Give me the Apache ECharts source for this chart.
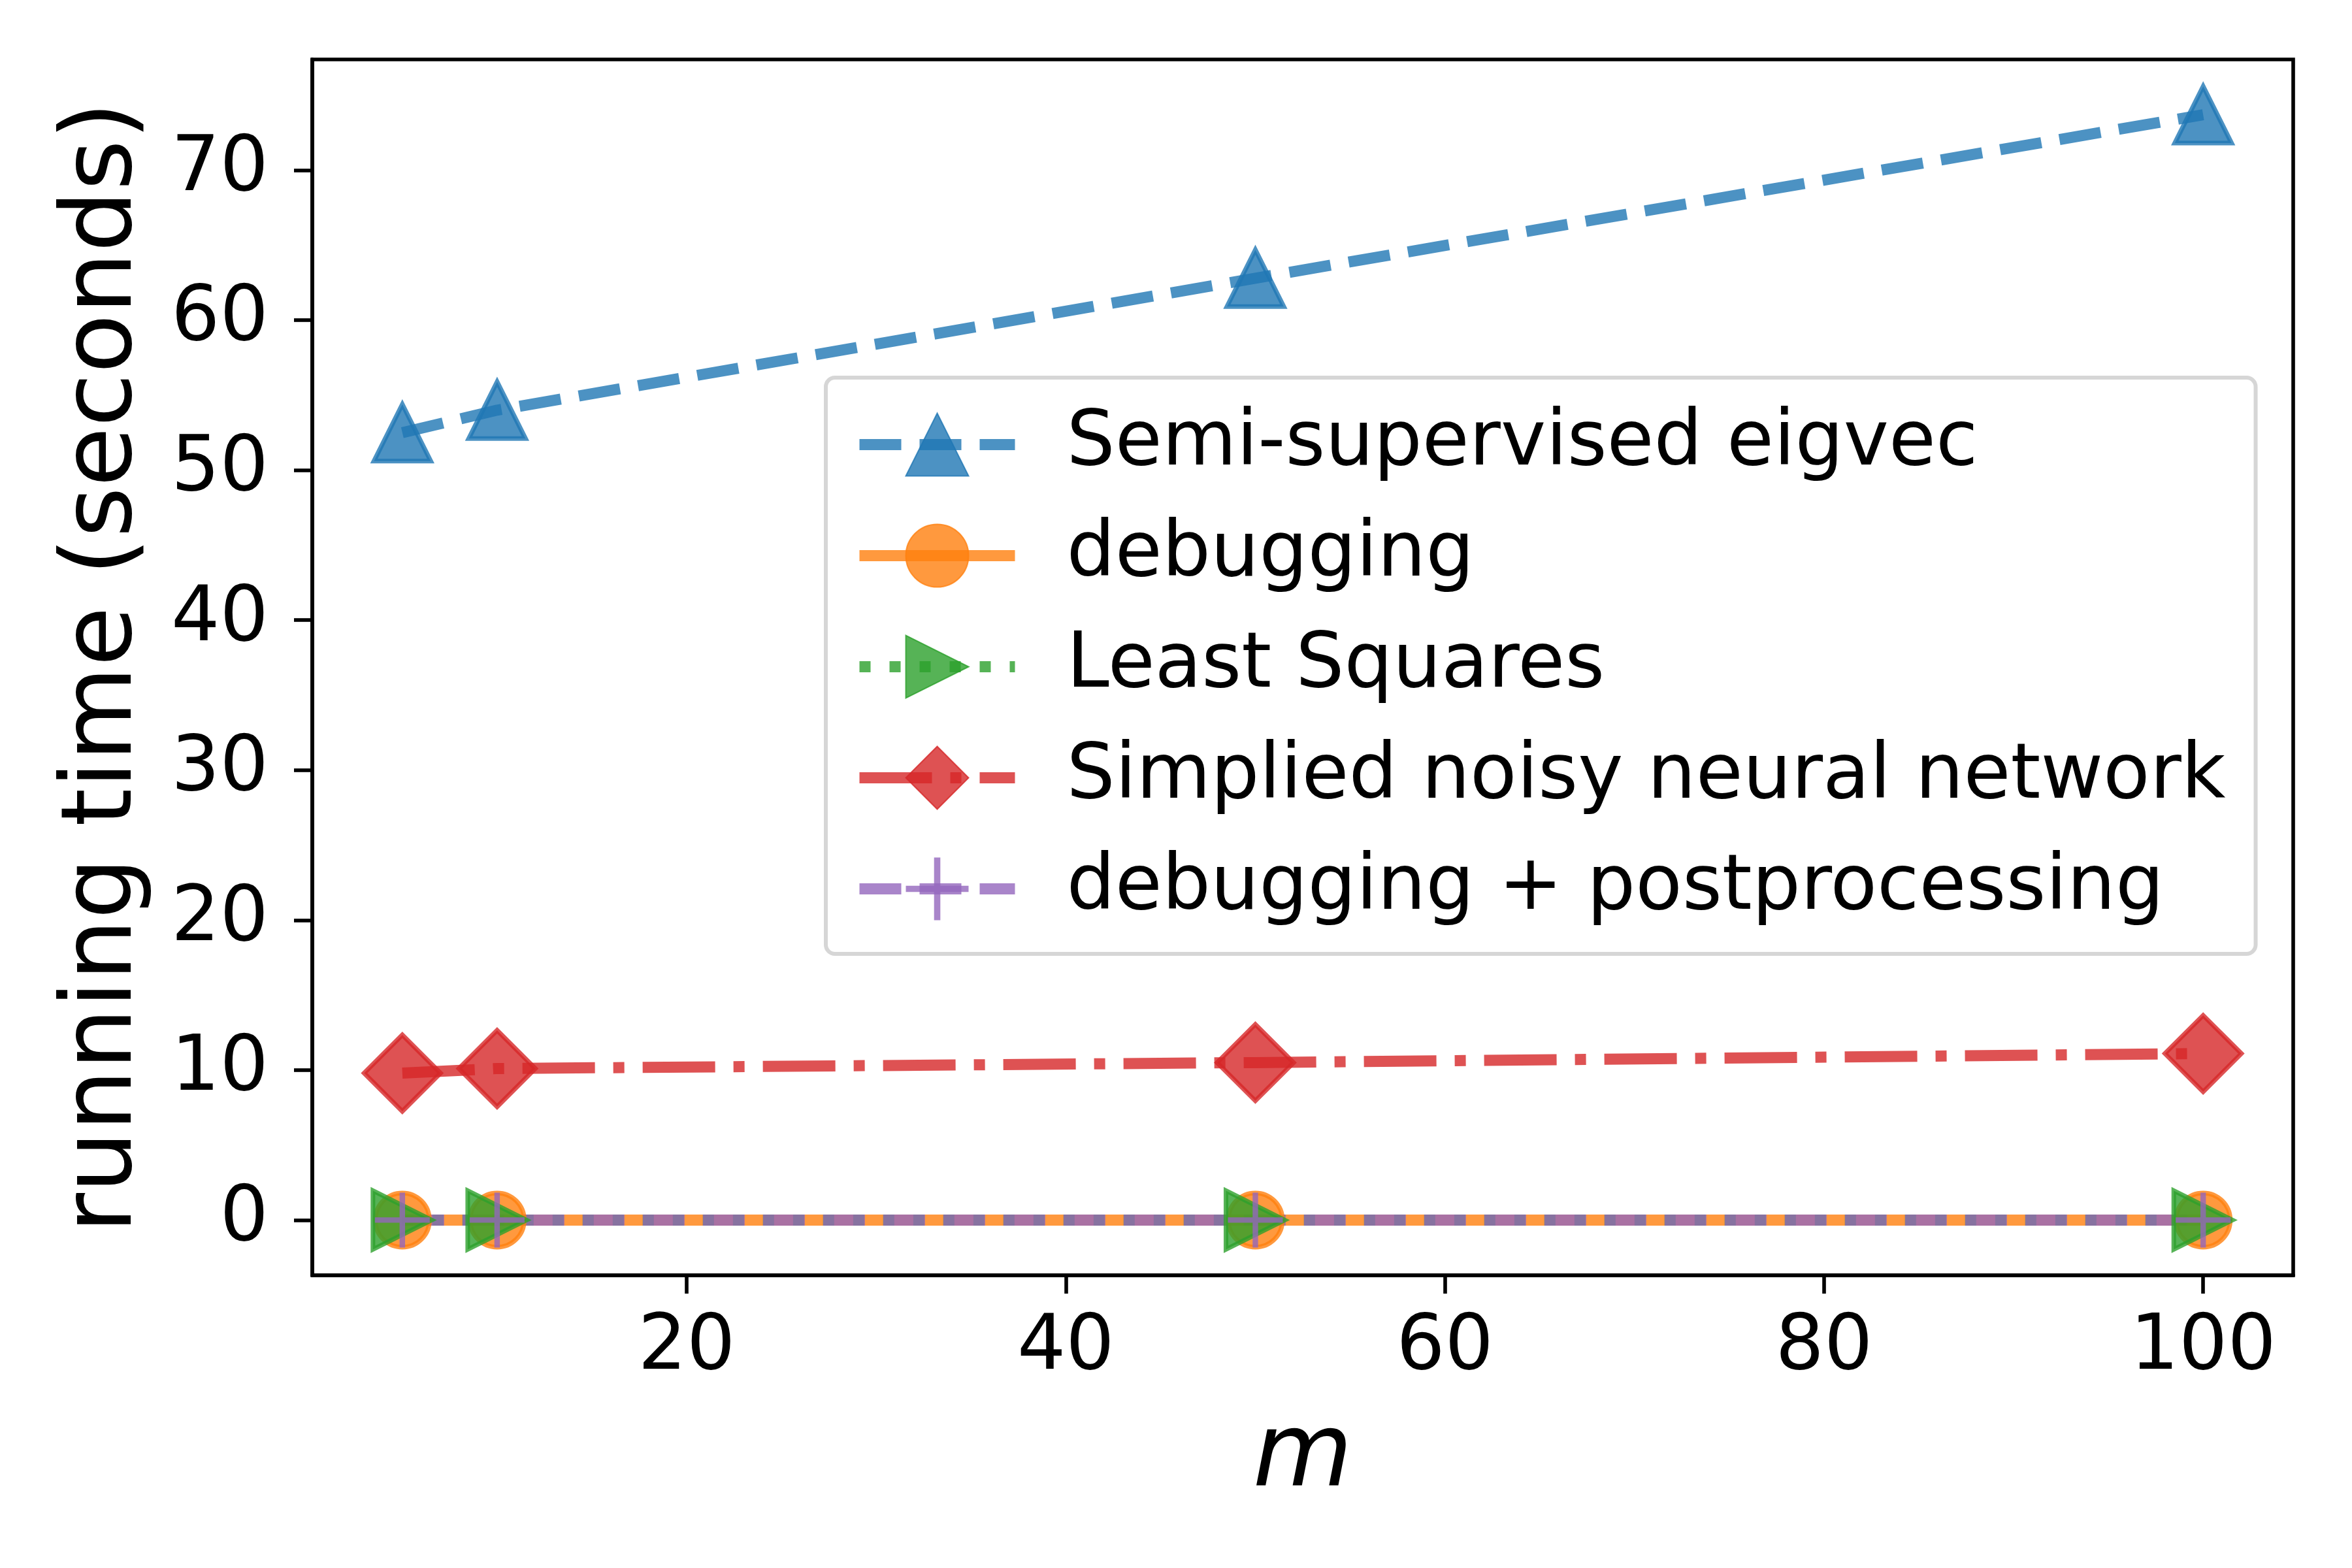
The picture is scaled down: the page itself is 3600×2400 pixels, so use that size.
<!DOCTYPE html>
<html>
<head>
<meta charset="utf-8">
<script src="https://cdn.jsdelivr.net/npm/echarts@6/dist/echarts.min.js"></script>
<style>
  html, body { margin: 0; padding: 0; background: #fff; }
  #chart { width: 3600px; height: 2400px; }
</style>
</head>
<body>
<div id="chart"></div>
<script>
// values
const mValues = [5, 10, 50, 100];
const semiSupervised = [52.5, 54.0, 62.8, 73.7];
const debugging = [0, 0, 0, 0];
const leastSquares = [0, 0, 0, 0];
const noisyNN = [9.8, 10.1, 10.5, 11.1];
const debugPost = [0, 0, 0, 0];
const xTicks = [20, 40, 60, 80, 100];
const yTicks = [0, 10, 20, 30, 40, 50, 60, 70];

const FONT = 'DejaVu Sans';

function pairs(ys) {
    return mValues.map((m, i) => [m, ys[i]]);
}

function rgba(hex, a) {
    const n = parseInt(hex.slice(1), 16);
    return 'rgba(' + (n >> 16) + ',' + ((n >> 8) & 255) + ',' + (n & 255) + ',' + a + ')';
}

function lineSeries(name, ys, color, dash, symbol, size, extra) {
    const s = {
        name: name,
        type: 'line',
        data: pairs(ys),
        symbol: symbol,
        symbolSize: size,
        showAllSymbol: true,
        lineStyle: {color: rgba(color, 0.8), width: 17, type: dash, cap: 'butt'},
        itemStyle: {color: rgba(color, 0.8), borderColor: rgba(color, 0.8), borderWidth: 7},
        emphasis: {disabled: true},
        animation: false
    };
    return Object.assign(s, extra || {});
}

const plusPath = 'path://M45,0 H55 V45 H100 V55 H55 V100 H45 V55 H0 V45 H45 Z';

const chart = echarts.init(document.getElementById('chart'), null, {renderer: 'canvas'});

chart.setOption({
    backgroundColor: '#fff',
    animation: false,
    grid: {
        left: 478, top: 91, width: 3032, height: 1861,
        show: true, borderColor: '#000', borderWidth: 5.6, backgroundColor: 'transparent'
    },
    xAxis: {
        type: 'value',
        min: 0.25, max: 104.75,
        name: 'm',
        nameLocation: 'middle',
        nameGap: 203,
        nameTextStyle: {fontFamily: FONT, fontSize: 157, fontStyle: 'italic', color: '#000'},
        axisLine: {onZero: false, lineStyle: {color: '#000', width: 5.6}},
        axisTick: {show: true, length: 28, lineStyle: {color: '#000', width: 5.6}, customValues: xTicks},
        axisLabel: {fontFamily: FONT, fontSize: 117, color: '#000', margin: 54, customValues: xTicks},
        splitLine: {show: false}
    },
    yAxis: {
        type: 'value',
        min: -3.685, max: 77.385,
        name: 'running time (seconds)',
        nameLocation: 'middle',
        nameGap: 242,
        nameTextStyle: {fontFamily: FONT, fontSize: 149, color: '#000'},
        axisLine: {show: true, onZero: false, lineStyle: {color: '#000', width: 5.6}},
        axisTick: {show: true, length: 28, lineStyle: {color: '#000', width: 5.6}, customValues: yTicks},
        axisLabel: {fontFamily: FONT, fontSize: 117, color: '#000', margin: 67, customValues: yTicks},
        splitLine: {show: false}
    },
    legend: {
        left: 1264, top: 578,
        orient: 'vertical',
        itemWidth: 238, itemHeight: 120, itemGap: 53,
        padding: [44, 46, 41, 43],
        backgroundColor: 'rgba(255,255,255,0.8)',
        borderColor: '#d6d6d6', borderWidth: 6, borderRadius: 14,
        lineStyle: {width: 17},
        textStyle: {fontFamily: FONT, fontSize: 117, color: '#000', padding: [0, 0, 0, 74]},
        data: ['Semi-supervised eigvec', 'debugging', 'Least Squares',
               'Simplied noisy neural network', 'debugging + postprocessing']
    },
    series: [
        lineSeries('Semi-supervised eigvec', semiSupervised, '#1f77b4', [64, 28], 'triangle', 87),
        lineSeries('debugging', debugging, '#ff7f0e', 'solid', 'circle', 83),
        lineSeries('Least Squares', leastSquares, '#2ca02c', [17, 29], 'triangle', 90, {symbolRotate: -90}),
        lineSeries('Simplied noisy neural network', noisyNN, '#d62728', [111, 28, 17, 28], 'diamond', 117),
        lineSeries('debugging + postprocessing', debugPost, '#9467bd', [64, 28], plusPath, 84,
            {itemStyle: {color: rgba('#9467bd', 0.8), borderWidth: 0}})
    ]
});
</script>
</body>
</html>
